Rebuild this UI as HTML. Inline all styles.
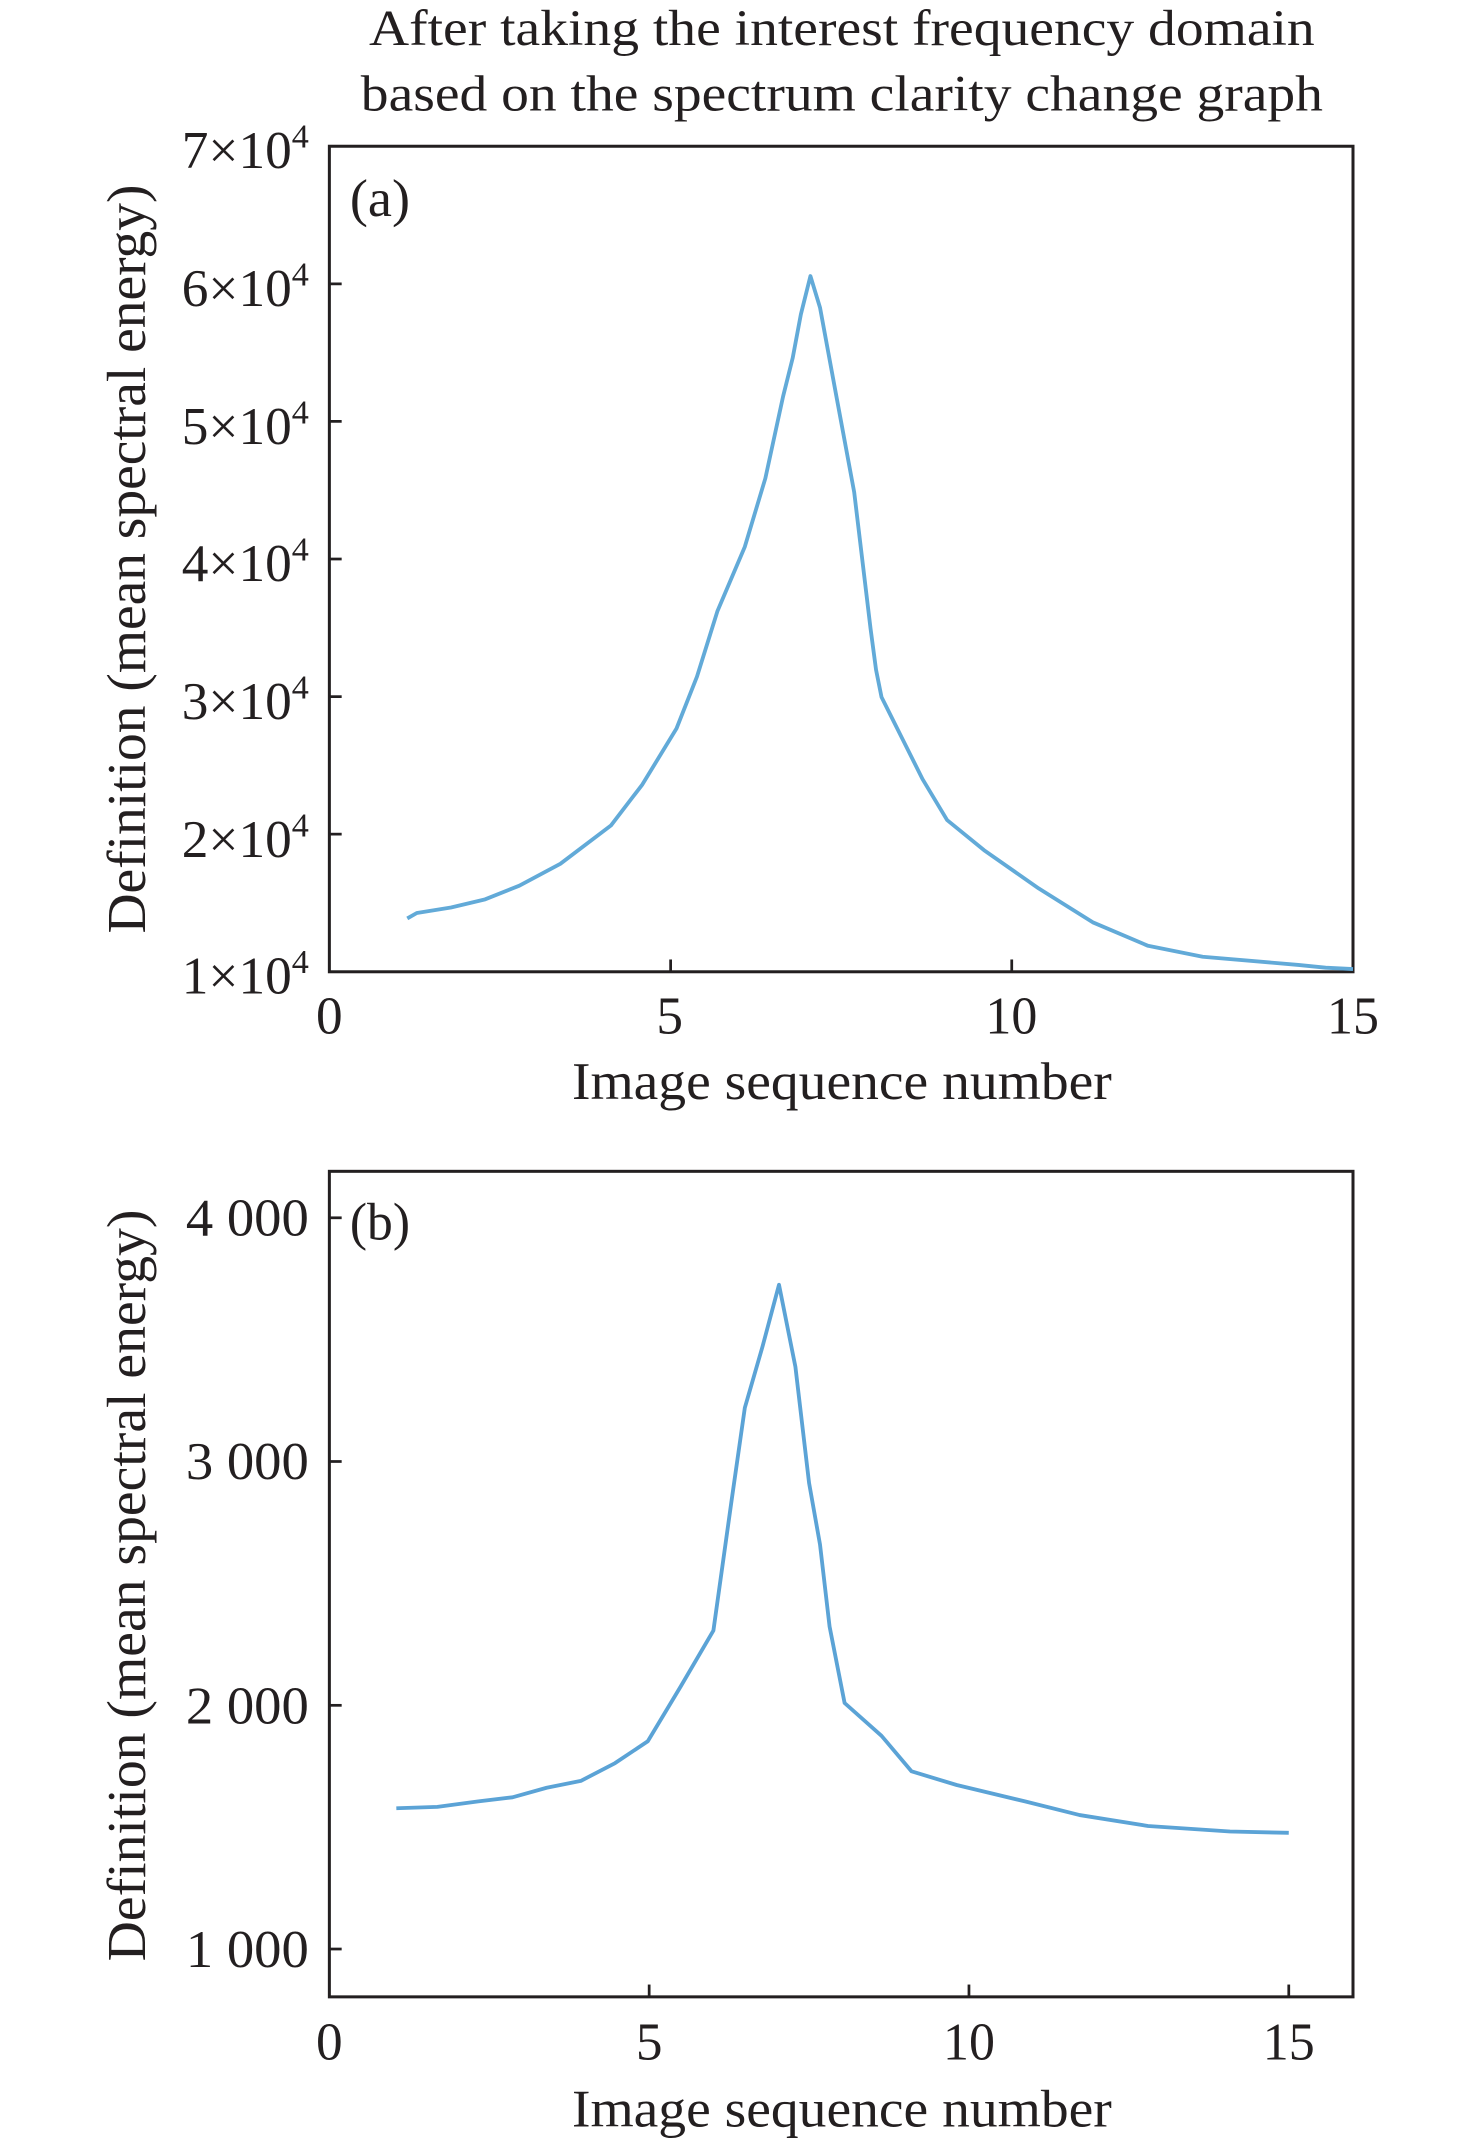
<!DOCTYPE html>
<html><head><meta charset="utf-8"><style>
html,body{margin:0;padding:0;background:#fff;}
svg{display:block;}
text{font-family:"Liberation Serif","Times New Roman",serif;fill:#231f20;}
</style></head><body>
<svg width="1476" height="2139" viewBox="0 0 1080 1565" preserveAspectRatio="none" xmlns="http://www.w3.org/2000/svg">
<rect width="1080" height="1565" fill="#fff"/>
<!-- title -->
<text x="616" y="33" font-size="37" text-anchor="middle" textLength="692" lengthAdjust="spacingAndGlyphs">After taking the interest frequency domain</text>
<text x="616" y="81" font-size="37" text-anchor="middle" textLength="704" lengthAdjust="spacingAndGlyphs">based on the spectrum clarity change graph</text>

<!-- Plot (a) -->
<rect x="241" y="107" width="749" height="604" fill="none" stroke="#231f20" stroke-width="2.2"/>
<g stroke="#231f20" stroke-width="2">
<line x1="241" y1="207.7" x2="250" y2="207.7"/>
<line x1="241" y1="308.3" x2="250" y2="308.3"/>
<line x1="241" y1="409" x2="250" y2="409"/>
<line x1="241" y1="509.7" x2="250" y2="509.7"/>
<line x1="241" y1="610.3" x2="250" y2="610.3"/>
<line x1="490.7" y1="711" x2="490.7" y2="702"/>
<line x1="740.3" y1="711" x2="740.3" y2="702"/>
</g>
<g font-size="39" text-anchor="end">
<text x="226" y="123">7×10<tspan font-size="25" dy="-15">4</tspan></text>
<text x="226" y="224">6×10<tspan font-size="25" dy="-15">4</tspan></text>
<text x="226" y="325">5×10<tspan font-size="25" dy="-15">4</tspan></text>
<text x="226" y="425">4×10<tspan font-size="25" dy="-15">4</tspan></text>
<text x="226" y="526">3×10<tspan font-size="25" dy="-15">4</tspan></text>
<text x="226" y="627">2×10<tspan font-size="25" dy="-15">4</tspan></text>
<text x="226" y="727">1×10<tspan font-size="25" dy="-15">4</tspan></text>
</g>
<g font-size="39" text-anchor="middle">
<text x="241" y="756">0</text>
<text x="490" y="756">5</text>
<text x="740" y="756" textLength="38" lengthAdjust="spacingAndGlyphs">10</text>
<text x="990" y="756" textLength="38" lengthAdjust="spacingAndGlyphs">15</text>
</g>
<text x="616" y="804" font-size="39" text-anchor="middle" textLength="395" lengthAdjust="spacingAndGlyphs">Image sequence number</text>
<text x="278" y="158" font-size="39" text-anchor="middle" textLength="44" lengthAdjust="spacingAndGlyphs">(a)</text>
<text transform="translate(106,409) rotate(-90)" font-size="40" text-anchor="middle" textLength="548" lengthAdjust="spacingAndGlyphs">Definition (mean spectral energy)</text>
<polyline fill="none" stroke="#62aad8" stroke-width="2.8" stroke-linejoin="round" points="298,672 305,668 330,664 355,658 380,648 410,632 447,604 470,574 495,533 510,495 525,447 545,400 560,350 573,290 580,262 586,230 593,202 600,225 612,290 625,360 637,460 641,490 645,510 660,540 675,570 693,600 720,622 760,650 800,675 840,692 880,700 950,706 970,708 990,709"/>

<!-- Plot (b) -->
<rect x="241" y="857" width="749" height="604" fill="none" stroke="#231f20" stroke-width="2.2"/>
<g stroke="#231f20" stroke-width="2">
<line x1="241" y1="891" x2="250" y2="891"/>
<line x1="241" y1="1069.3" x2="250" y2="1069.3"/>
<line x1="241" y1="1247.7" x2="250" y2="1247.7"/>
<line x1="241" y1="1426" x2="250" y2="1426"/>
<line x1="475" y1="1461" x2="475" y2="1452"/>
<line x1="709" y1="1461" x2="709" y2="1452"/>
<line x1="943" y1="1461" x2="943" y2="1452"/>
</g>
<g font-size="39" text-anchor="end">
<text x="226" y="904" textLength="90" lengthAdjust="spacingAndGlyphs">4 000</text>
<text x="226" y="1082" textLength="90" lengthAdjust="spacingAndGlyphs">3 000</text>
<text x="226" y="1261" textLength="90" lengthAdjust="spacingAndGlyphs">2 000</text>
<text x="226" y="1439" textLength="90" lengthAdjust="spacingAndGlyphs">1 000</text>
</g>
<g font-size="39" text-anchor="middle">
<text x="241" y="1507">0</text>
<text x="475" y="1507">5</text>
<text x="709" y="1507" textLength="38" lengthAdjust="spacingAndGlyphs">10</text>
<text x="943" y="1507" textLength="38" lengthAdjust="spacingAndGlyphs">15</text>
</g>
<text x="616" y="1556" font-size="39" text-anchor="middle" textLength="395" lengthAdjust="spacingAndGlyphs">Image sequence number</text>
<text x="278" y="907" font-size="39" text-anchor="middle" textLength="44" lengthAdjust="spacingAndGlyphs">(b)</text>
<text transform="translate(106,1160) rotate(-90)" font-size="40" text-anchor="middle" textLength="550" lengthAdjust="spacingAndGlyphs">Definition (mean spectral energy)</text>
<polyline fill="none" stroke="#5ba3d6" stroke-width="2.8" stroke-linejoin="round" points="290,1323 320,1322 350,1318 375,1315 400,1308 425,1303 450,1290 474,1274 498,1234 522,1193 535,1100 545,1030 558,985 570,940 582,1000 592,1085 600,1130 607,1190 618,1246 645,1270 667,1296 700,1306 750,1318 790,1328 840,1336 900,1340 943,1341"/>
</svg>
</body></html>
